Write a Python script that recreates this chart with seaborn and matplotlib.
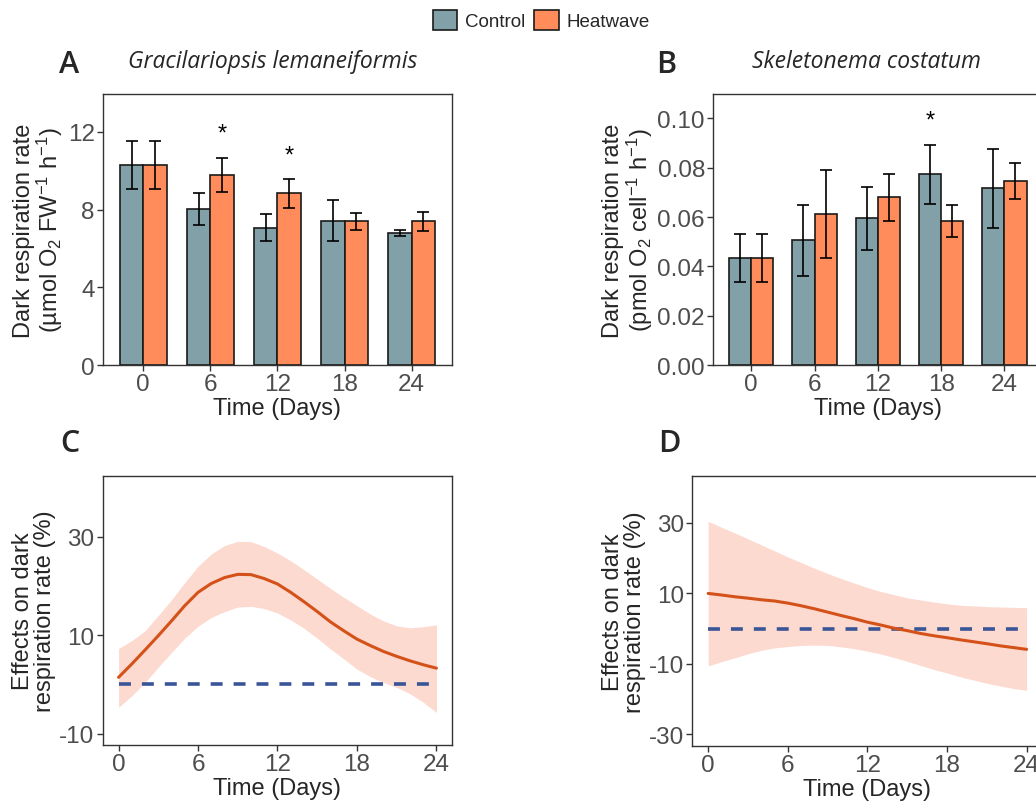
import numpy as np
import pandas as pd
import seaborn as sns
import matplotlib.pyplot as plt
from matplotlib.patches import Patch

days = [0, 6, 12, 18, 24]
groups = ['Control', 'Heatwave']

# panel A - Gracilariopsis lemaneiformis (mean, error)
a_control = [10.3, 8.03, 7.07, 7.43, 6.81]
a_control_err = [1.25, 0.80, 0.70, 1.07, 0.15]
a_heat = [10.3, 9.80, 8.84, 7.40, 7.40]
a_heat_err = [1.25, 0.88, 0.75, 0.45, 0.50]
a_stars = [(6, 'Heatwave', 11.9), (12, 'Heatwave', 10.8)]

# panel B - Skeletonema costatum
b_control = [0.0434, 0.0505, 0.0595, 0.0774, 0.0716]
b_control_err = [0.0096, 0.0145, 0.0128, 0.0120, 0.0160]
b_heat = [0.0434, 0.0612, 0.0680, 0.0584, 0.0747]
b_heat_err = [0.0096, 0.0180, 0.0094, 0.0066, 0.0072]
b_stars = [(18, 'Control', 0.0993)]

# panels C/D - fitted effect and confidence band, read per day
curve_days = list(range(25))
c_fit = [1.44, 4.15, 7.0, 9.9, 12.9, 16.0, 18.7, 20.5, 21.7, 22.35, 22.3, 21.5, 20.4,
         18.7, 16.8, 14.8, 12.7, 10.9, 9.2, 7.9, 6.7, 5.7, 4.8, 4.0, 3.3]
c_upper = [7.3, 8.9, 10.9, 14.0, 17.2, 20.7, 24.0, 26.5, 28.2, 29.05, 29.0, 28.0, 26.7,
           25.1, 23.3, 21.4, 19.5, 17.7, 16.0, 14.3, 12.9, 11.9, 11.5, 11.7, 12.1]
c_lower = [-4.65, -2.3, 0.4, 3.5, 6.5, 9.4, 11.8, 13.6, 14.8, 15.7, 15.85, 15.4, 14.5,
           13.1, 11.4, 9.4, 7.2, 5.2, 3.1, 1.6, 0.4, -0.6, -1.9, -3.6, -5.7]
d_fit = [9.94, 9.5, 9.0, 8.6, 8.15, 7.8, 7.2, 6.45, 5.6, 4.65, 3.7, 2.8, 1.8,
         1.0, 0.1, -0.6, -1.4, -2.05, -2.6, -3.2, -3.75, -4.3, -4.9, -5.4, -5.9]
d_upper = [30.4, 28.7, 27.1, 25.4, 23.7, 22.0, 20.3, 18.7, 17.1, 15.6, 14.2, 12.9, 11.6,
           10.5, 9.6, 8.7, 8.1, 7.5, 7.0, 6.6, 6.4, 6.2, 6.1, 6.0, 5.9]
d_lower = [-10.6, -9.4, -8.3, -7.15, -6.2, -5.5, -5.1, -4.8, -4.7, -4.8, -5.2, -5.7, -6.4,
           -7.2, -8.2, -9.3, -10.45, -11.6, -12.6, -13.7, -14.6, -15.5, -16.3, -17.0, -17.5]

colors = {'Control': '#82A0A8', 'Heatwave': '#FF8C5A'}
line_col = '#D4521A'
band_col = '#FDDACF'
zero_col = '#3A5597'
tick_col = '#4D4D4D'

sns.set_style('ticks')
plt.rcParams['font.family'] = ['Liberation Sans', 'DejaVu Sans']
plt.rcParams['mathtext.default'] = 'regular'
plt.rcParams['lines.scale_dashes'] = False
plt.rcParams['axes.unicode_minus'] = False


def style_axes(ax):
    for s in ax.spines.values():
        s.set_visible(True)
        s.set_color('#333333')
        s.set_linewidth(1.0)
    ax.tick_params(axis='both', colors='#333333', labelcolor=tick_col,
                   labelsize=17.5, length=4, width=1.0, direction='out', pad=2)


def bar_panel(ax, control, control_err, heat, heat_err, stars, ylim, yticks, ytl, ylabel):
    df = pd.DataFrame({
        'Time': [str(d) for d in days] * 2,
        'Group': ['Control'] * len(days) + ['Heatwave'] * len(days),
        'Rate': control + heat,
    })
    sns.barplot(data=df, x='Time', y='Rate', hue='Group', hue_order=groups,
                order=[str(d) for d in days], palette=colors, width=0.7,
                errorbar=None, edgecolor='#1a1a1a', linewidth=1.2,
                saturation=1, legend=False, ax=ax)
    errs = {'Control': control_err, 'Heatwave': heat_err}
    vals = {'Control': control, 'Heatwave': heat}
    centers = {}
    for grp, cont in zip(groups, ax.containers):
        xs = [b.get_x() + b.get_width() / 2 for b in cont]
        centers[grp] = xs
        ax.errorbar(xs, vals[grp], yerr=errs[grp], fmt='none', ecolor='black',
                    elinewidth=1.2, capsize=4, capthick=1.2, zorder=5)
    for d, grp, y in stars:
        ax.text(centers[grp][days.index(d)], y, '*', ha='center', va='center',
                fontsize=17, color='black')
    ax.set_xlim(-0.6, 4.6)
    ax.set_ylim(*ylim)
    ax.set_yticks(yticks)
    ax.set_yticklabels(ytl)
    ax.set_xlabel('Time (Days)', fontsize=17, labelpad=1.5)
    ax.set_ylabel(ylabel, fontsize=17, labelpad=2, linespacing=1.0)
    style_axes(ax)


def curve_panel(ax, fit, upper, lower, ylim, yticks):
    ax.fill_between(curve_days, lower, upper, color=band_col, lw=0, zorder=1)
    sns.lineplot(x=curve_days, y=fit, color=line_col, linewidth=2.2, ax=ax, zorder=3)
    sns.lineplot(x=[0, 24], y=[0, 0], color=zero_col, linewidth=2.6,
                 dashes=False, ax=ax, zorder=2).lines[-1].set_dashes((8.6, 7.9))
    ax.set_xlim(-1.2, 25.2)
    ax.set_ylim(*ylim)
    ax.set_xticks([0, 6, 12, 18, 24])
    ax.set_yticks(yticks)
    ax.set_yticklabels([str(t) for t in yticks])
    ax.set_xlabel('Time (Days)', fontsize=17, labelpad=1.5)
    ax.set_ylabel('Effects on dark\nrespiration rate (%)', fontsize=17,
                  labelpad=2, linespacing=1.0)
    style_axes(ax)


fig = plt.figure(figsize=(10.36, 8.03), dpi=100)
ax_a = fig.add_axes([0.0994, 0.5442, 0.3369, 0.3375])
ax_b = fig.add_axes([0.6885, 0.5442, 0.3176, 0.3375])
ax_c = fig.add_axes([0.0991, 0.0710, 0.3375, 0.3354])
ax_d = fig.add_axes([0.6682, 0.0697, 0.3381, 0.3362])

bar_panel(ax_a, a_control, a_control_err, a_heat, a_heat_err, a_stars,
          (0, 13.95), [0, 4, 8, 12], ['0', '4', '8', '12'],
          'Dark respiration rate\n(µmol O$_2$ FW$^{-1}$ h$^{-1}$)')
bar_panel(ax_b, b_control, b_control_err, b_heat, b_heat_err, b_stars,
          (0, 0.1099), [0, 0.02, 0.04, 0.06, 0.08, 0.10],
          ['0.00', '0.02', '0.04', '0.06', '0.08', '0.10'],
          'Dark respiration rate\n(pmol O$_2$ cell$^{-1}$ h$^{-1}$)')
curve_panel(ax_c, c_fit, c_upper, c_lower, (-12.3, 42.4), [-10, 10, 30])
curve_panel(ax_d, d_fit, d_upper, d_lower, (-33.3, 43.2), [-30, -10, 10, 30])

# panel letters and species titles
for x, y, s in [(69, 65, 'A'), (666, 65, 'B'), (70, 444, 'C'), (669, 444, 'D')]:
    fig.text(x / 1036, 1 - y / 803, s, ha='center', va='center', fontsize=22,
             family=['Open Sans', 'DejaVu Sans'], weight='semibold')
fig.text(273 / 1036, 1 - 62 / 803, 'Gracilariopsis lemaneiformis', ha='center',
         va='center', fontsize=16.5, style='italic', weight='medium',
         family=['Open Sans', 'DejaVu Sans'])
fig.text(867 / 1036, 1 - 62 / 803, 'Skeletonema costatum', ha='center',
         va='center', fontsize=16.5, style='italic', weight='medium',
         family=['Open Sans', 'DejaVu Sans'])

handles = [Patch(facecolor=colors[g], edgecolor='#1a1a1a', linewidth=1.2, label=g)
           for g in groups]
fig.legend(handles=handles, loc='center', bbox_to_anchor=(541 / 1036, 1 - 21 / 803),
           ncol=2, frameon=False, fontsize=13.5, handlelength=1.3, handleheight=1.3,
           handletextpad=0.4, columnspacing=0.5)

fig.savefig('out.png', dpi=100)
